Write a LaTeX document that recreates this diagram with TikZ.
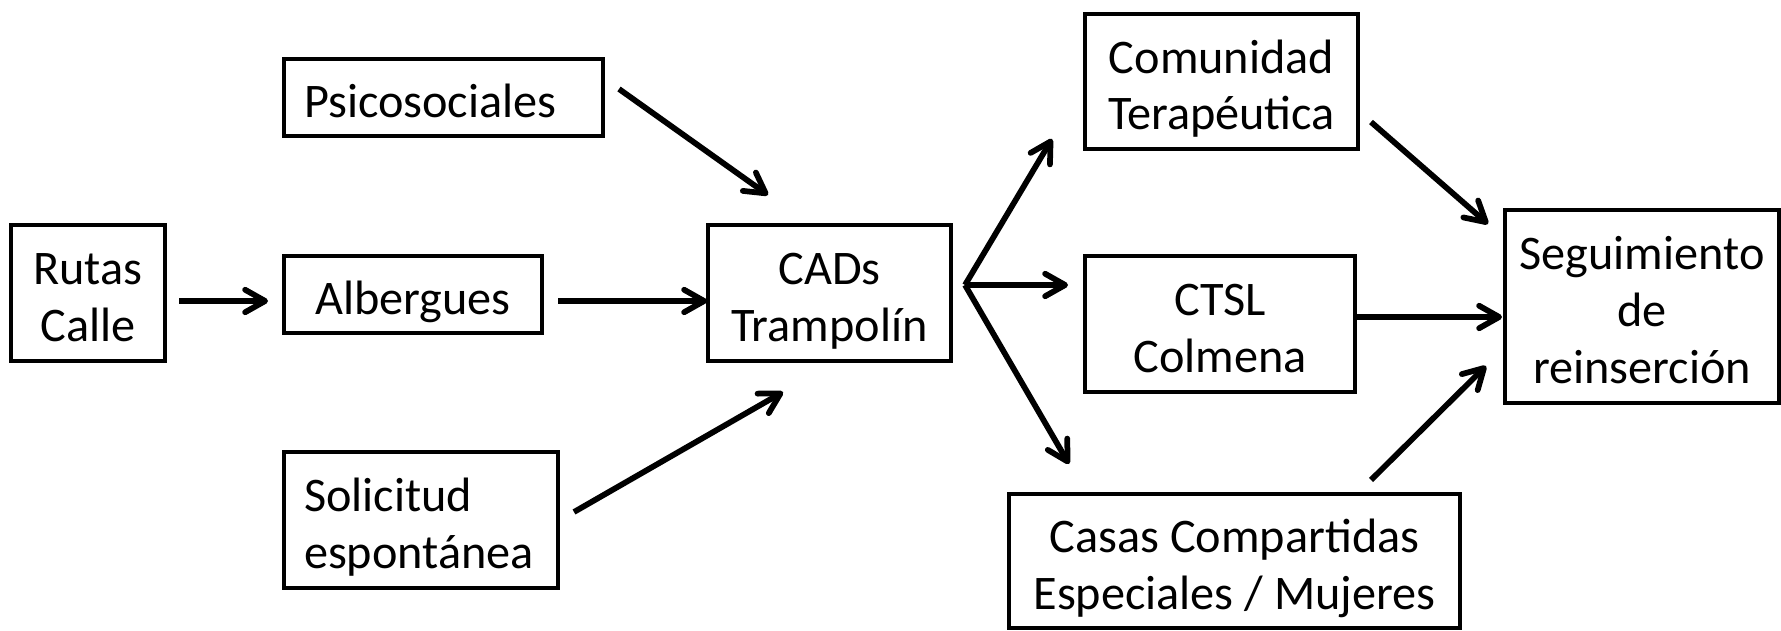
\documentclass[tikz,border=0pt]{standalone}
\usepackage{fontspec}
\setmainfont{Carlito}
\usetikzlibrary{arrows.meta}

\newcommand{\arriba}{\rule{0pt}{22pt}}
\newcommand{\abajo}{\rule[-6pt]{0pt}{6pt}}

\begin{document}
\begin{tikzpicture}[x=40pt,y=40pt,
  caja/.style={draw, line width=1.9pt, inner sep=0pt, align=center,
    font=\fontsize{19.3}{22.7}\selectfont},
  flecha/.style={line width=2.3pt, -{Straight Barb[length=8pt,width=9pt,round]}}]

\useasboundingbox (0,0) rectangle (17.81,6.30);

\node[caja, minimum width=61.6pt, minimum height=54.4pt] (rutas) at (0.88,3.37) {\arriba Rutas\\Calle\abajo};
\node[caja, text width=111.6pt, inner xsep=8pt, minimum height=30.8pt, align=left] (psico) at (4.435,5.325) {\arriba Psicosociales\abajo};
\node[caja, minimum width=103.2pt, minimum height=30.8pt] (albergues) at (4.13,3.355) {\arriba Albergues\abajo};
\node[caja, text width=93.6pt, inner xsep=8pt, minimum height=54.4pt, align=left] (solicitud) at (4.21,1.10) {\arriba Solicitud\\espontánea\abajo};
\node[caja, minimum width=97.2pt, minimum height=54.4pt] (cads) at (8.295,3.37) {\arriba CADs\\Trampolín\abajo};
\node[caja, minimum width=109.2pt, minimum height=54pt] (comunidad) at (12.215,5.485) {\arriba Comunidad\\Terapéutica\abajo};
\node[caja, minimum width=108pt, minimum height=54.4pt] (ctsl) at (12.20,3.06) {\arriba CTSL\\Colmena\abajo};
\node[caja, minimum width=180.4pt, minimum height=53.6pt] (casas) at (12.345,0.69) {\arriba Casas Compartidas\\Especiales / Mujeres\abajo};
\node[caja, minimum width=109.6pt, minimum height=77.2pt] (seguimiento) at (16.42,3.235) {\arriba Seguimiento\\de\\reinserción\abajo};

\coordinate (r0) at (1.79,3.29);
\coordinate (r1) at (2.68,3.29);
\coordinate (a0) at (5.58,3.29);
\coordinate (a1) at (7.07,3.29);
\coordinate (p0) at (6.19,5.41);
\coordinate (p1) at (7.68,4.35);
\coordinate (s0) at (5.74,1.18);
\coordinate (s1) at (7.83,2.38);
\coordinate (f0) at (9.65,3.45);
\coordinate (fa) at (10.52,4.91);
\coordinate (fm) at (10.68,3.45);
\coordinate (fb) at (10.69,1.66);
\coordinate (c0) at (13.71,5.08);
\coordinate (c1) at (14.88,4.06);
\coordinate (t0) at (13.55,3.13);
\coordinate (t1) at (15.02,3.13);
\coordinate (k0) at (13.71,1.50);
\coordinate (k1) at (14.86,2.64);

\draw[flecha] (r0)--(r1);
\draw[flecha] (a0)--(a1);
\draw[flecha] (p0)--(p1);
\draw[flecha] (s0)--(s1);

\foreach \t in {fa,fm,fb}{
	\draw[flecha] (f0)--(\t);
}

\draw[flecha] (c0)--(c1);
\draw[flecha] (t0)--(t1);
\draw[flecha] (k0)--(k1);
\end{tikzpicture}
\end{document}
